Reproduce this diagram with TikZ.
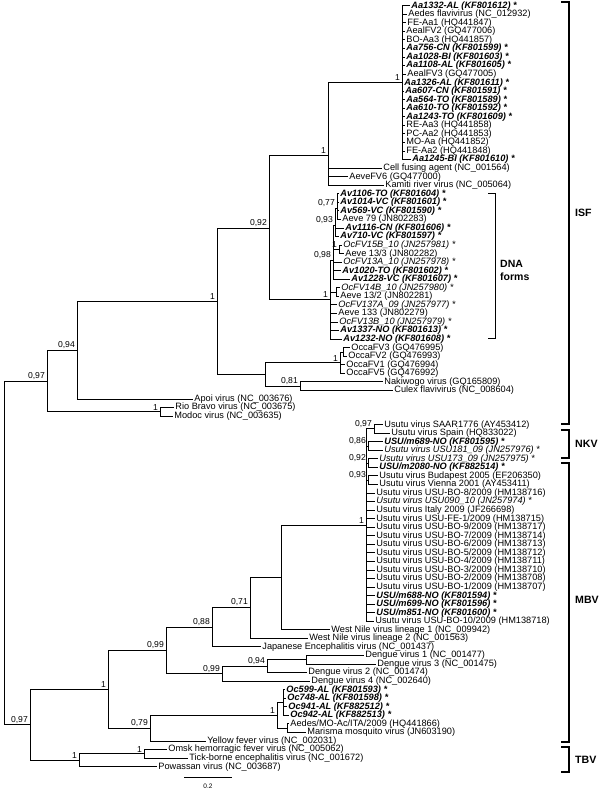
\documentclass[tikz,border=0pt]{standalone}
\usepackage{fontspec}
\setmainfont{Liberation Sans}
\tikzset{
  br/.style={line width=1pt},
  grp/.style={line width=2.2pt},
  nn/.style={anchor=west,inner sep=1.2pt,font=\fontsize{9.2}{9.2}\selectfont},
  nw/.style={nn,font=\fontsize{9.2}{9.2}\selectfont\bfseries\itshape},
  ni/.style={nn,font=\fontsize{9.2}{9.2}\selectfont\itshape},
  pp/.style={anchor=south east,inner sep=0pt,xshift=-2pt,yshift=1.5pt,font=\fontsize{8.6}{8.6}\selectfont},
  grplab/.style={anchor=west,inner sep=0pt,font=\fontsize{10.6}{10.6}\selectfont\bfseries}
}
\begin{document}
\begin{tikzpicture}[x=1pt,y=-1pt]
\useasboundingbox (0,0) rectangle (600,790);
% internal nodes
\foreach \n/\x/\y in {R/4/553,A/47/381,B/77/350,K/160/411.8,C/217/301,D/269/228,F/328/155,H/402/82.65,
  G/330/299.6,Q98/333/260,Q93/335/225,Q77/337/208,Q1a/339/249.4,Q1b/336/292.1,E/265/374.4,O/340/362.7,
  O32/343/352,N81/300/386.2,L/30/724.8,T/79/760.2,OT/144/753.8,N1/108/689.4,N99/166/650.5,N88/212/627.3,
  N71/250/607.7,V/281/577,U/366/525,S97/374/428.9,S86/368/446,S92/368/463.1,S93/368/480.2,ND99/222/673.8,
  N94/267/666.3,ND13/306/659.8,N79/150/728.2,X/277/715.4,XOc/283/702.5,XAM/287/728.2}
  \coordinate (\n) at (\x,\y);
\foreach \p/\c in {R/A,R/L,A/B,A/K,B/C,C/D,C/E,D/F,D/G,F/H,G/Q98,Q98/Q93,Q93/Q77,Q98/Q1a,G/Q1b,E/O,O/O32,
  E/N81,L/N1,L/T,T/OT,N1/N99,N1/N79,N99/N88,N99/ND99,N88/N71,N71/V,V/U,U/S97,U/S86,U/S92,U/S93,ND99/N94,
  N94/ND13,N79/X,X/XOc,X/XAM}
  \draw[br] (\p) |- (\c);
% leaves
\foreach \i/\p/\x/\s/\t in {
  1/H/410/nw/{Aa1332-AL (KF801612) *},2/H/407/nn/{Aedes flavivirus (NC\_012932)},3/H/406/nn/{FE-Aa1 (HQ441847)},
  4/H/405/nn/{AealFV2 (GQ477006)},5/H/405/nn/{BO-Aa3 (HQ441857)},6/H/405/nw/{Aa756-CN (KF801599) *},
  7/H/405/nw/{Aa1028-BI (KF801603) *},8/H/405/nw/{Aa1108-AL (KF801605) *},9/H/406/nn/{AealFV3 (GQ477005)},
  10/H/403/nw/{Aa1326-AL (KF801611) *},11/H/404/nw/{Aa607-CN (KF801591) *},12/H/405/nw/{Aa564-TO (KF801589) *},
  13/H/405/nw/{Aa610-TO (KF801592) *},14/H/405/nw/{Aa1243-TO (KF801609) *},15/H/405/nn/{RE-Aa3 (HQ441858)},
  16/H/405/nn/{PC-Aa2 (HQ441853)},17/H/405/nn/{MO-Aa (HQ441852)},18/H/405/nn/{FE-Aa2 (HQ441848)},
  19/H/411/nw/{Aa1245-BI (KF801610) *},20/F/382/nn/{Cell fusing agent (NC\_001564)},
  21/F/348/nn/{AeveFV6 (GQ477000)},22/F/384/nn/{Kamiti river virus (NC\_005064)},
  23/Q77/339/nw/{Av1106-TO (KF801604) *},24/Q77/339/nw/{Av1014-VC (KF801601) *},25/Q77/339/nw/{Av569-VC (KF801590) *},
  26/Q77/341/nn/{Aeve 79 (JN802283)},27/Q93/344/nw/{Av1116-CN (KF801606) *},28/Q93/339/nw/{Av710-VC (KF801597) *},
  29/Q1a/342/ni/{OcFV15B\_10 (JN257981) *},30/Q1a/344/nn/{Aeve 13/3 (JN802282)},31/Q98/342/ni/{OcFV13A\_10 (JN257978) *},
  32/Q98/341/nw/{Av1020-TO (KF801602) *},33/Q98/350/nw/{Av1228-VC (KF801607) *},34/Q1b/340/ni/{OcFV14B\_10 (JN257980) *},
  35/Q1b/339/nn/{Aeve 13/2 (JN802281)},36/G/337/ni/{OcFV137A\_09 (JN257977) *},37/G/337/nn/{Aeve 133 (JN802279)},
  38/G/338/ni/{OcFV13B\_10 (JN257979) *},39/G/339/nw/{Av1337-NO (KF801613) *},40/G/342/nw/{Av1232-NO (KF801608) *},
  41/O32/350/nn/{OccaFV3 (GQ476995)},42/O32/347/nn/{OccaFV2 (GQ476993)},43/O/345/nn/{OccaFV1 (GQ476994)},
  44/O/345/nn/{OccaFV5 (GQ476992)},45/N81/383/nn/{Nakiwogo virus (GQ165809)},46/N81/393/nn/{Culex flavivirus (NC\_008604)},
  47/B/193/nn/{Apoi virus (NC\_003676)},48/K/174/nn/{Rio Bravo virus (NC\_003675)},49/K/173/nn/{Modoc virus (NC\_003635)},
  50/S97/383/nn/{Usutu virus SAAR1776 (AY453412)},51/S97/390/nn/{Usutu virus Spain (HQ833022)},
  52/S86/383/nw/{USU/m689-NO (KF801595) *},53/S86/383/ni/{Usutu virus USU181\_09 (JN257976) *},
  54/S92/378/ni/{Usutu virus USU173\_09 (JN257975) *},55/S92/378/nw/{USU/m2080-NO (KF882514) *},
  56/S93/378/nn/{Usutu virus Budapest 2005 (EF206350)},57/S93/378/nn/{Usutu virus Vienna 2001 (AY453411)},
  58/U/375/nn/{Usutu virus USU-BO-8/2009 (HM138716)},59/U/375/ni/{Usutu virus USU090\_10 (JN257974) *},
  60/U/375/nn/{Usutu virus Italy 2009 (JF266698)},61/U/375/nn/{Usutu virus USU-FE-1/2009 (HM138715)},
  62/U/375/nn/{Usutu virus USU-BO-9/2009 (HM138717)},63/U/375/nn/{Usutu virus USU-BO-7/2009 (HM138714)},
  64/U/375/nn/{Usutu virus USU-BO-6/2009 (HM138713)},65/U/375/nn/{Usutu virus USU-BO-5/2009 (HM138712)},
  66/U/375/nn/{Usutu virus USU-BO-4/2009 (HM138711)},67/U/375/nn/{Usutu virus USU-BO-3/2009 (HM138710)},
  68/U/375/nn/{Usutu virus USU-BO-2/2009 (HM138708)},69/U/375/nn/{Usutu virus USU-BO-1/2009 (HM138707)},
  70/U/375/nw/{USU/m688-NO (KF801594) *},71/U/375/nw/{USU/m699-NO (KF801596) *},72/U/375/nw/{USU/m851-NO (KF801600) *},
  73/U/374/nn/{Usutu virus USU-BO-10/2009 (HM138718)},74/V/330/nn/{West Nile virus lineage 1 (NC\_009942)},
  75/N71/308/nn/{West Nile virus lineage 2 (NC\_001563)},76/N88/261/nn/{Japanese Encephalitis virus (NC\_001437)},
  77/ND13/364/nn/{Dengue virus 1 (NC\_001477)},78/ND13/376/nn/{Dengue virus 3 (NC\_001475)},
  79/N94/307/nn/{Dengue virus 2 (NC\_001474)},80/ND99/310/nn/{Dengue virus 4 (NC\_002640)},
  81/XOc/285/nw/{Oc599-AL (KF801593) *},82/XOc/286/nw/{Oc748-AL (KF801598) *},83/XOc/287/nw/{Oc941-AL (KF882512) *},
  84/XOc/289/nw/{Oc942-AL (KF882513) *},85/XAM/289/nn/{Aedes/MO-Ac/ITA/2009 (HQ441866)},
  86/XAM/306/nn/{Marisma mosquito virus (JN603190)},87/N79/206/nn/{Yellow fever virus (NC\_002031)},
  88/OT/167/nn/{Omsk hemorragic fever virus (NC\_005062)},89/OT/188/nn/{Tick-borne encephalitis virus (NC\_001672)},
  90/T/157/nn/{Powassan virus (NC\_003687)}}
  {\node[\s] (l\i) at (\x,{5.7+8.55*(\i-1)}) {\t};
   \draw[br] (\p) |- (l\i.west);}
% support values
\foreach \c/\v in {A/{0,97},B/{0,94},K/1,C/1,D/{0,92},F/1,H/1,G/1,Q98/{0,98},Q93/{0,93},Q77/{0,77},Q1a/1,
  O/1,N81/{0,81},L/{0,97},T/1,OT/1,N1/1,N99/{0,99},N88/{0,88},N71/{0,71},U/1,S97/{0,97},S86/{0,86},S92/{0,92},
  S93/{0,93},ND99/{0,99},N94/{0,94},N79/{0,79},X/1}
  \node[pp] at (\c) {\v};
% groups
\draw[grp] (561,2) -- (569,2) -- (569,424) -- (561,424);
\node[grplab] at (575,213) {ISF};
\draw[grp] (561,430) -- (569,430) -- (569,458) -- (561,458);
\node[grplab] at (575,444) {NKV};
\draw[grp] (561,463) -- (569,463) -- (569,742) -- (561,742);
\node[grplab] at (575,600) {MBV};
\draw[grp] (561,747) -- (569,747) -- (569,772) -- (561,772);
\node[grplab] at (575,760) {TBV};
\draw[br] (488,193) -- (495,193) -- (495,338) -- (488,338);
\node[anchor=west,align=left,inner sep=0pt,font=\fontsize{10.5}{13}\selectfont\bfseries] at (500,270) {DNA\\forms};
% scale
\draw[br] (184,777) -- (232,777);
\node[font=\fontsize{6.5}{6.5}\selectfont] at (208,786) {0.2};
\end{tikzpicture}
\end{document}
